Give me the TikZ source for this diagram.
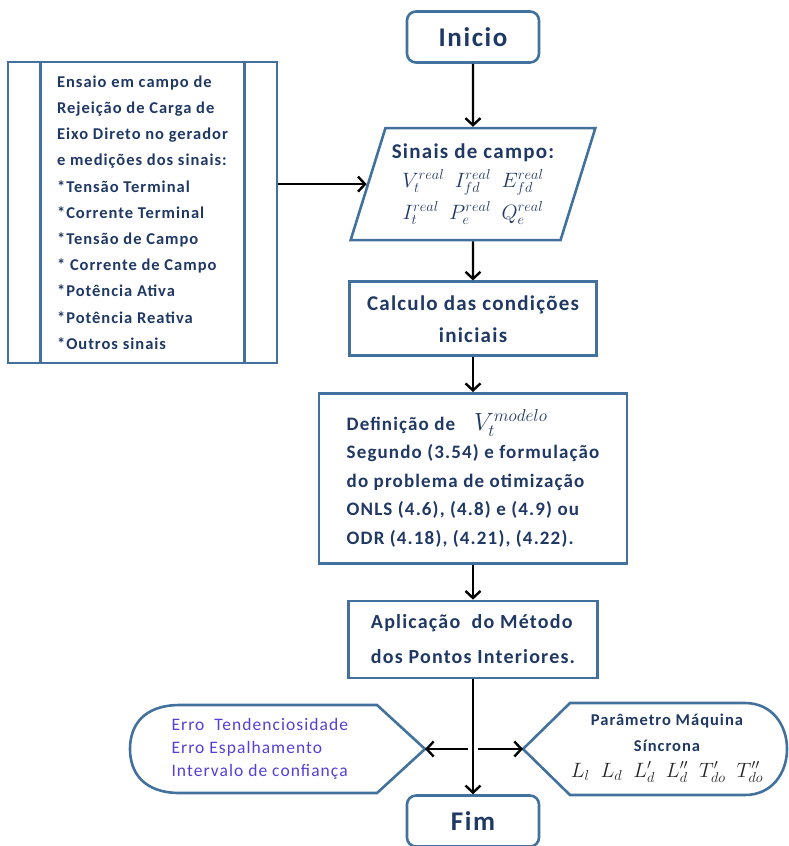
\documentclass[tikz,border=0pt]{standalone}
\usepackage{fontspec}
\setmainfont{Carlito}[LetterSpace=6]
\usetikzlibrary{arrows.meta,shapes.geometric,positioning}
\definecolor{boxline}{RGB}{65,113,156}
\definecolor{boxtext}{RGB}{31,56,100}
\definecolor{errtext}{RGB}{82,64,216}
\tikzset{flow/.style={-{Straight Barb[length=7pt,width=15pt]}, line width=2.4pt}}
\tikzset{
  base/.style={draw=boxline, line width=2.6pt, text=boxtext, font=\bfseries},
  term/.style={base, rounded corners=9pt, minimum width=132pt, minimum height=51pt,
    font=\bfseries\fontsize{27}{30}\selectfont},
  io/.style={base, trapezium, trapezium left angle=69, trapezium right angle=111,
    trapezium stretches=true, minimum width=245pt, minimum height=112pt, align=center},
  proc/.style={base, rectangle, align=left},
  predef/.style={base, rectangle, minimum width=269pt, minimum height=301pt}
}

\begin{document}
\begin{tikzpicture}[x=1pt, y=-1pt, node distance=35pt]
    \useasboundingbox (0,0) rectangle (789,846);

    \node[term] (init) at (473,37) {Inicio};
    \node[io, font=\bfseries\fontsize{21}{27}\selectfont] (sinais) [below=63pt of init]
      {Sinais de campo:\\[2pt]
       {\fontsize{21}{21}\selectfont$V_t^{real}\enskip I_{fd}^{real}\enskip E_{fd}^{real}$}\\[5pt]
       {\fontsize{21}{21}\selectfont$I_t^{real}\enskip P_e^{real}\enskip Q_e^{real}$}};
    \node[proc, align=center, minimum width=247pt, minimum height=74pt,
      font=\bfseries\fontsize{21}{32}\selectfont] (calc) [below=39pt of sinais]
      {Calculo das condições\\ iniciais};
    \node[proc, minimum width=308pt, minimum height=170pt,
      font=\bfseries\fontsize{19}{28.5}\selectfont] (defn) [below=of calc]
      {Definição de\quad{\fontsize{26}{26}\selectfont$V_t^{modelo}$}\\
       Segundo (3.54) e formulação\\
       do problema de otimização\\
       ONLS (4.6), (4.8) e (4.9) ou\\
       ODR (4.18), (4.21), (4.22).};
    \node[proc, minimum width=249pt, minimum height=77pt,
      font=\bfseries\fontsize{20}{35}\selectfont] (apl) [below=of defn]
      {Aplicação\ \ do Método\\ dos Pontos Interiores.};
    \node[term] (fim) [below=115pt of apl] {Fim};

    % ensaio de campo
    \node[predef, align=left,
      font=\bfseries\fontsize{16.5}{26.2}\selectfont] (ensaio) at (142.5,212.5)
      {Ensaio em campo de\\ Rejeição de Carga de\\ Eixo Direto no gerador\\
       e medições dos sinais:\\ {*}Tensão Terminal\\ {*}Corrente Terminal\\
       {*}Tensão de Campo\\ {*} Corrente de Campo\\ {*}Potência Ativa\\
       {*}Potência Reativa\\ {*}Outros sinais};
    \draw[boxline, line width=2.6pt] ([xshift=34pt]ensaio.north west) -- ([xshift=34pt]ensaio.south west)
      ([xshift=-34pt]ensaio.north east) -- ([xshift=-34pt]ensaio.south east);

    % saidas
    \coordinate (errtip) at (425,749);
    \coordinate (partip) at (523,749);
    \coordinate (junc) at (apl.south |- errtip);
    \draw[boxline, line width=2.6pt] (errtip) -- (377,793) -- (180,793)
      .. controls (143,793) and (130,772) .. (130,749)
      .. controls (130,726) and (143,705) .. (180,705) -- (377,705) -- cycle;
    \draw[boxline, line width=2.6pt] (partip) -- (570,703) -- (745,703)
      .. controls (772,703) and (787,725) .. (787,749)
      .. controls (787,773) and (772,795) .. (745,795) -- (570,795) -- cycle;
    \node[align=left, anchor=west, text=errtext, font=\fontsize{17.5}{23}\selectfont] (erro) at (168,749)
      {Erro\ \ Tendenciosidade\\ Erro Espalhamento\\ Intervalo de confiança};
    \node[align=center, text=boxtext, font=\bfseries\fontsize{16.5}{26}\selectfont] (param) at (667,748)
      {Parâmetro Máquina\\ Síncrona\\
       {\fontsize{21}{21}\selectfont\color{black!85}$L_l\hspace{11pt}L_d\hspace{11pt}L'_d\hspace{11pt}L''_d\hspace{11pt}T'_{do}\hspace{11pt}T''_{do}$}};

    \draw[flow] (init) -- (sinais);
    \draw[flow] (ensaio.east |- sinais.west) -- (sinais.west);
    \draw[flow] (sinais) -- (calc);
    \draw[flow] (calc) -- (defn);
    \draw[flow] (defn) -- (apl);
    \draw[flow] (apl) -- (fim);
    \draw[flow] ([xshift=-5pt]junc) -- (errtip);
    \draw[flow] ([xshift=5pt]junc) -- (partip);
\end{tikzpicture}
\end{document}
